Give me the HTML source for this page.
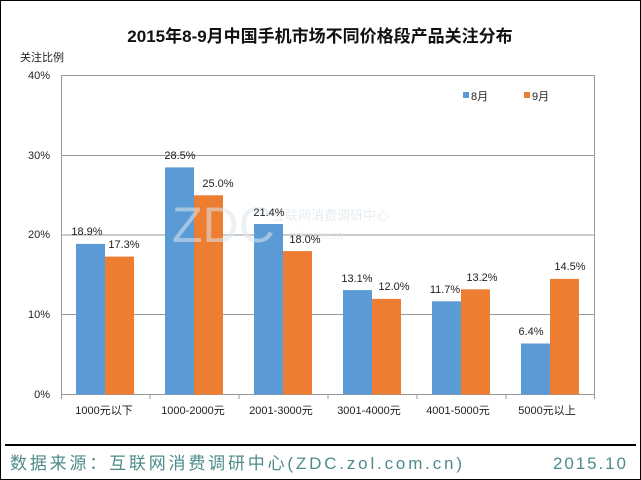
<!DOCTYPE html>
<html><head><meta charset="utf-8"><style>
body{margin:0;background:#fff}
svg{display:block}
text{font-family:"Liberation Sans","Noto Sans CJK SC",sans-serif}
</style></head><body>
<svg width="641" height="480" viewBox="0 0 641 480">
<rect x="0.5" y="0.5" width="640" height="479" fill="#fff" stroke="#000"/>
<text x="320" y="42" text-anchor="middle" font-size="17" font-weight="bold" font-family="Liberation Serif,Noto Serif CJK SC,serif" fill="#111">2015年8-9月中国手机市场不同价格段产品关注分布</text>
<text x="20" y="61" font-size="11" fill="#222">关注比例</text>
<g font-size="11" fill="#222" text-anchor="end">
<text x="50" y="79">40%</text><text x="50" y="159">30%</text><text x="50" y="238">20%</text><text x="50" y="318">10%</text><text x="50" y="398">0%</text>
</g>
<g stroke="#999" stroke-width="1">
<line x1="61" y1="155.5" x2="595" y2="155.5"/><line x1="61" y1="235" x2="595" y2="235"/><line x1="61" y1="314.5" x2="595" y2="314.5"/>
</g>
<rect x="61.5" y="75.5" width="533" height="319" fill="none" stroke="#999"/>
<g stroke="#999"><line x1="150" y1="394" x2="150" y2="399"/><line x1="239" y1="394" x2="239" y2="399"/><line x1="328" y1="394" x2="328" y2="399"/><line x1="417" y1="394" x2="417" y2="399"/><line x1="506" y1="394" x2="506" y2="399"/><line x1="61.5" y1="394" x2="61.5" y2="399"/><line x1="594.5" y1="394" x2="594.5" y2="399"/></g>
<g fill="#5b9bd5">
<rect x="76" y="243.9" width="29" height="150.6"/>
<rect x="165" y="167.4" width="29" height="227.1"/>
<rect x="254" y="224" width="29" height="170.5"/>
<rect x="343" y="290.1" width="29" height="104.4"/>
<rect x="432" y="301.3" width="29" height="93.2"/>
<rect x="521" y="343.5" width="29" height="51"/>
</g>
<g fill="#ed7d31">
<rect x="105" y="256.6" width="29" height="137.9"/>
<rect x="194" y="195.3" width="29" height="199.2"/>
<rect x="283" y="251.1" width="29" height="143.4"/>
<rect x="372" y="298.9" width="29" height="95.6"/>
<rect x="461" y="289.3" width="29" height="105.2"/>
<rect x="550" y="278.9" width="29" height="115.6"/>
</g>
<text x="172" y="242" font-size="50" font-family="Liberation Serif,serif" fill="#dde6ee" opacity="0.55">ZDC</text>
<text x="272" y="220" font-size="13" fill="#dde6ee" opacity="0.7">互联网消费调研中心</text>
<text x="290" y="239" font-size="11" fill="#dde6ee" opacity="0.7">zol.com.cn</text>
<g font-size="11" fill="#222" text-anchor="middle">
<text x="87" y="235">18.9%</text><text x="124" y="248">17.3%</text>
<text x="180" y="159">28.5%</text><text x="218" y="187">25.0%</text>
<text x="269" y="216">21.4%</text><text x="305" y="243">18.0%</text>
<text x="357" y="282">13.1%</text><text x="394" y="290">12.0%</text>
<text x="445" y="293">11.7%</text><text x="482" y="281">13.2%</text>
<text x="531" y="335">6.4%</text><text x="570" y="270">14.5%</text>
</g>
<rect x="463" y="92" width="6" height="6" fill="#5b9bd5"/><text x="471" y="100" font-size="11" fill="#222">8月</text>
<rect x="524" y="92" width="6" height="6" fill="#ed7d31"/><text x="532" y="100" font-size="11" fill="#222">9月</text>
<g font-size="11" fill="#222" text-anchor="middle">
<text x="104" y="414">1000元以下</text><text x="193" y="414">1000-2000元</text><text x="281" y="414">2001-3000元</text><text x="369" y="414">3001-4000元</text><text x="458" y="414">4001-5000元</text><text x="547" y="414">5000元以上</text>
</g>
<line x1="5" y1="445" x2="636" y2="445" stroke="#000" stroke-width="2"/>
<text x="10" y="469" font-size="17" fill="#4e8b8b" textLength="452" lengthAdjust="spacing">数据来源：互联网消费调研中心(ZDC.zol.com.cn)</text>
<text x="553" y="469" font-size="17" fill="#4e8b8b" textLength="73" lengthAdjust="spacing">2015.10</text>
</svg>
</body></html>
